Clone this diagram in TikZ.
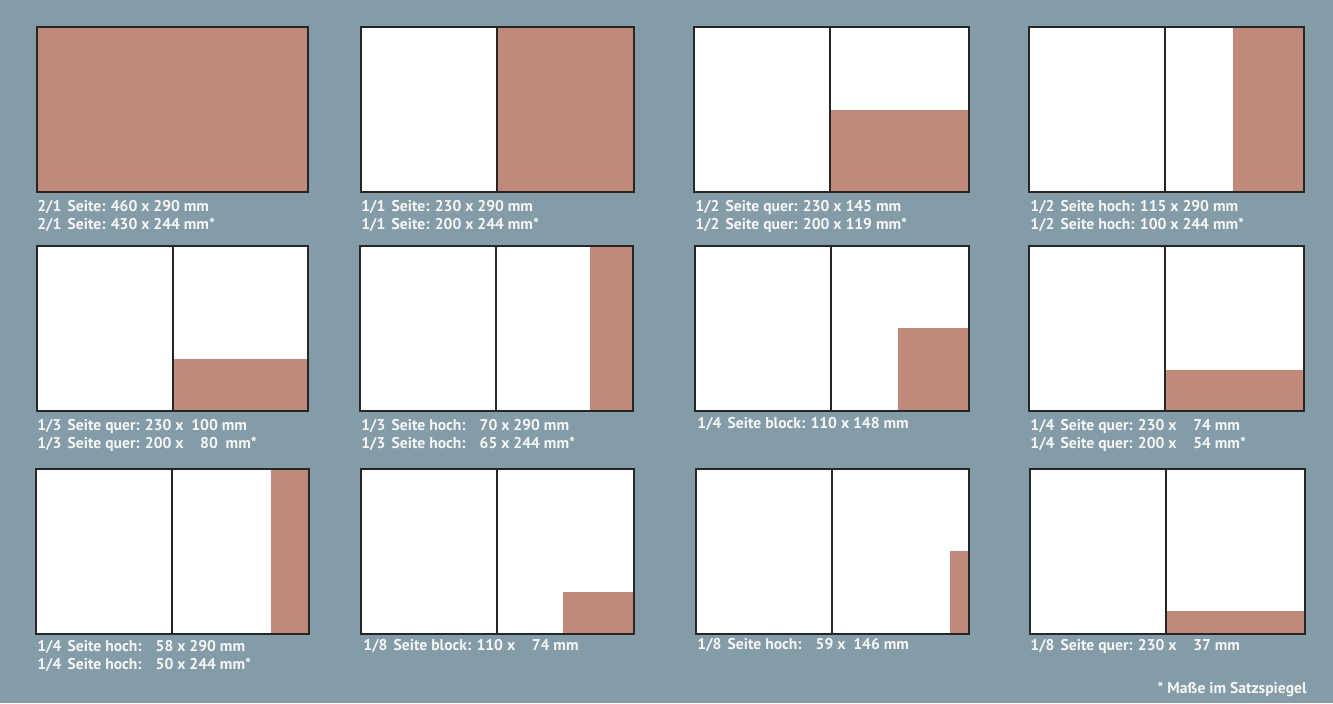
\documentclass[tikz,border=0pt]{standalone}
\usepackage{fontspec}
\setmainfont{PT Sans}
\usetikzlibrary{positioning}
\definecolor{grund}{RGB}{132,156,168}
\definecolor{anz}{RGB}{192,138,122}
\definecolor{schrift}{RGB}{246,246,246}
\newcommand{\fgap}{\hspace{0.4em}}
\newcommand{\zf}{\hphantom{1}}
\tikzset{
  seite/.style={draw=black!85,line width=0.8pt},
  falz/.style={black!85,line width=1pt},
  anzeige/.style={fill=anz},
  txt/.style={anchor=north west,inner sep=0pt,align=left,text=schrift,
    font=\fontsize{7.8}{8.9}\selectfont\bfseries},
}

\begin{document}
\begin{tikzpicture}[x=0.5pt,y=-0.5pt]
  \fill[grund] (0,0) rectangle (1333,703);
  \useasboundingbox (0,0) rectangle (1333,703);
  % Doppelseiten: x, y, Breite, Anzeige ab, Falz ja/nein
  \foreach \x/\y/\w/\ax/\ay/\f in {37/27/271/0/0/0, 361/27/273/136/0/1, 694/27/275/137/83/1, 1029/27/275/204/0/1,
      37/246/271/135/113/1, 360/246/273/230/0/1, 695/246/274/203/82/1, 1029/246/275/136/124/1,
      36/469/273/235/0/1, 361/469/273/202/123/1, 696/469/273/254/82/1, 1030/469/275/136/142/1}{
    \fill[white] (\x,\y) rectangle ++(\w,165);
    \fill[anzeige] (\x+\ax,\y+\ay) rectangle (\x+\w,\y+165);
    \ifnum\f=1 \draw[falz] (\x+136,\y) -- ++(0,165); \fi
    \draw[seite] (\x,\y) rectangle ++(\w,165);
  }
  % Formate
  \node[txt] (s21) at (37,200) {2/1\fgap Seite: 460 x 290 mm\\2/1\fgap Seite: 430 x 244 mm*};
  \node[txt] (s11) at (361,200) {1/1\fgap Seite: 230 x 290 mm\\1/1\fgap Seite: 200 x 244 mm*};
  \node[txt] (s2q) at (695,200) {1/2\fgap Seite quer: 230 x 145 mm\\1/2\fgap Seite quer: 200 x 119 mm*};
  \node[txt] (s2h) at (1030,200) {1/2\fgap Seite hoch: 115 x 290 mm\\1/2\fgap Seite hoch: 100 x 244 mm*};
  \node[txt] (s3q) at (37,419) {1/3\fgap Seite quer: 230 x\enspace 100 mm\\1/3\fgap Seite quer: 200 x\enspace\zf 80\enspace mm*};
  \node[txt] (s3h) at (361,419) {1/3\fgap Seite hoch:\hspace{0.9em}70 x 290 mm\\1/3\fgap Seite hoch:\hspace{0.9em}65 x 244 mm*};
  \node[txt] (s4b) at (697,417) {1/4\fgap Seite block: 110 x 148 mm};
  \node[txt] (s4q) at (1030,419) {1/4\fgap Seite quer: 230 x\enspace\zf 74 mm\\1/4\fgap Seite quer: 200 x\enspace\zf 54 mm*};
  \node[txt] (s4h) at (37,640) {1/4\fgap Seite hoch:\hspace{0.9em}58 x 290 mm\\1/4\fgap Seite hoch:\hspace{0.9em}50 x 244 mm*};
  \node[txt] (s8b) at (363,639) {1/8\fgap Seite block: 110 x\enspace\zf 74 mm};
  \node[txt] (s8h) at (697,638) {1/8\fgap Seite hoch:\hspace{0.9em}59 x\enspace 146 mm};
  \node[txt] (s8q) at (1030,639) {1/8\fgap Seite quer: 230 x\enspace\zf 37 mm};
  \node[txt,anchor=north east] (fuss) at (1307,682) {* Maße im Satzspiegel};
\end{tikzpicture}
\end{document}
